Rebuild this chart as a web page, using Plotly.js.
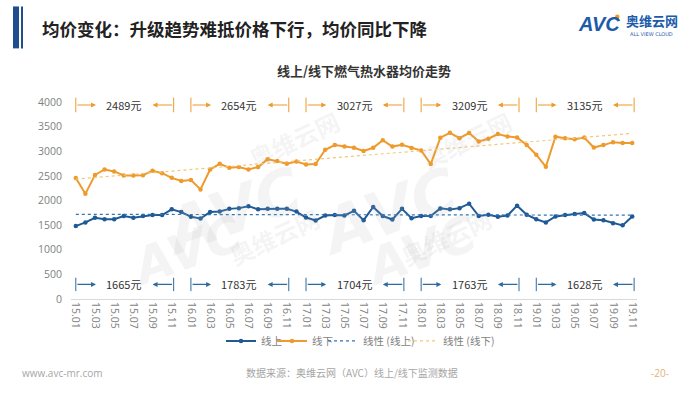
<!DOCTYPE html>
<html>
<head>
<meta charset="utf-8">
<script src="https://cdn.plot.ly/plotly-3.0.1.min.js"></script>
<style>
html,body{margin:0;padding:0;background:#fff;}
#chart{width:700px;height:394px;}
</style>
</head>
<body>
<div id="chart"></div>
<script>
// ---- data ----
const months = [
  "15.01","15.02","15.03","15.04","15.05","15.06","15.07","15.08","15.09","15.10","15.11","15.12",
  "16.01","16.02","16.03","16.04","16.05","16.06","16.07","16.08","16.09","16.10","16.11","16.12",
  "17.01","17.02","17.03","17.04","17.05","17.06","17.07","17.08","17.09","17.10","17.11","17.12",
  "18.01","18.02","18.03","18.04","18.05","18.06","18.07","18.08","18.09","18.10","18.11","18.12",
  "19.01","19.02","19.03","19.04","19.05","19.06","19.07","19.08","19.09","19.10","19.11"
];
const online = [
  1480,1555,1650,1620,1620,1685,1650,1685,1705,1705,1820,1765,
  1670,1635,1765,1775,1830,1845,1885,1820,1830,1830,1830,1775,
  1655,1595,1695,1705,1695,1790,1600,1870,1685,1615,1830,1640,
  1685,1685,1840,1820,1845,1935,1685,1710,1670,1695,1895,1710,
  1620,1555,1675,1705,1725,1745,1615,1600,1540,1495,1675
];
const offline = [
  2455,2135,2520,2630,2590,2510,2510,2515,2605,2555,2460,2395,
  2415,2225,2630,2745,2665,2680,2630,2680,2840,2800,2745,2790,
  2730,2740,3030,3125,3095,3070,3005,3070,3225,3095,3130,3065,
  3015,2740,3275,3375,3265,3370,3200,3255,3350,3300,3280,3125,
  2930,2685,3295,3265,3245,3280,3075,3125,3185,3170,3170
];
const yearStartIdx = [0, 12, 24, 36, 48];
const offlineAvgLabels = ["2489元","2654元","3027元","3209元","3135元"];
const onlineAvgLabels  = ["1665元","1783元","1704元","1763元","1628元"];
const tickMonths = months.filter((m, i) => i % 2 === 0);
const seriesNames = ["线上","线下","线性 (线上)","线性 (线下)"];

// ---- styles ----
const BLUE = "#1F5A96", ORANGE = "#EE9A2C";
const BLUE_T = "#2E75B6", ORANGE_T = "#F2C77A";
const CJK = "Noto Sans CJK SC, sans-serif";

function linfit(arr){
  const n = arr.length; let sx=0, sy=0, sxx=0, sxy=0;
  arr.forEach((v,i)=>{sx+=i; sy+=v; sxx+=i*i; sxy+=i*v;});
  const b = (n*sxy - sx*sy)/(n*sxx - sx*sx);
  const a = (sy - b*sx)/n;
  return arr.map((v,i)=>a+b*i);
}

const traces = [
  {x: months, y: online, name: seriesNames[0], type:"scatter", mode:"lines+markers", legend:"legend",
   line:{color:BLUE, width:2}, marker:{color:BLUE, size:4.5}},
  {x: months, y: offline, name: seriesNames[1], type:"scatter", mode:"lines+markers", legend:"legend2",
   line:{color:ORANGE, width:2}, marker:{color:ORANGE, size:4.5}},
  {x: months, y: linfit(online), name: seriesNames[2], type:"scatter", mode:"lines", legend:"legend3",
   line:{color:BLUE_T, width:1.2, dash:"dot"}},
  {x: months, y: linfit(offline), name: seriesNames[3], type:"scatter", mode:"lines", legend:"legend4",
   line:{color:ORANGE_T, width:1.2, dash:"dot"}}
];

function px(xp){return (xp-71)/566;}
function py(yp){return (299-yp)/197.3;}

const shapes = [];
const annotations = [];
function bracketRow(labels, color, yc, h){
  yearStartIdx.forEach((s, k) => {
    [s, s + 10.2].forEach(xx => shapes.push({type:"line", xref:"x", yref:"paper",
      x0:xx, x1:xx, y0:yc-h, y1:yc+h, line:{color:color, width:1}}));
    annotations.push({xref:"x", yref:"paper", x:s+2.1, y:yc, ax:-20, ay:0, text:"",
      showarrow:true, arrowhead:2, arrowsize:0.9, arrowwidth:1.1, arrowcolor:color});
    annotations.push({xref:"x", yref:"paper", x:s+8.0, y:yc, ax:21, ay:0, text:"",
      showarrow:true, arrowhead:2, arrowsize:0.9, arrowwidth:1.1, arrowcolor:color});
    annotations.push({xref:"x", yref:"paper", x:s+5, y:yc, text:labels[k], showarrow:false,
      font:{family:CJK, size:11, color:"#333"}, xanchor:"center", yanchor:"middle"});
  });
}
bracketRow(offlineAvgLabels, ORANGE, 0.985, 0.037);
bracketRow(onlineAvgLabels, "#2F6A9E", 0.074, 0.034);

// page decorations
shapes.push(
  {type:"rect", xref:"paper", yref:"paper", x0:px(13), x1:px(19), y0:py(6), y1:py(48),
   fillcolor:"#1F4E8C", line:{width:0}, layer:"above"},
  {type:"rect", xref:"paper", yref:"paper", x0:px(21), x1:px(23), y0:py(6), y1:py(48),
   fillcolor:"#1F4E8C", line:{width:0}, layer:"above"},
  {type:"circle", xref:"paper", yref:"paper", x0:px(615), x1:px(619.5), y0:py(14), y1:py(18.5),
   fillcolor:"#F39A1E", line:{width:0}, layer:"above"}
);

annotations.push(
  {xref:"paper", yref:"paper", x:px(40), y:py(28), xanchor:"left", yanchor:"middle", showarrow:false,
   text:"<b>均价变化：升级趋势难抵价格下行，均价同比下降</b>", font:{family:CJK, size:17.5, color:"#222"}},
  {xref:"paper", yref:"paper", x:px(364), y:py(70), xanchor:"center", yanchor:"middle", showarrow:false,
   text:"<b>线上/线下燃气热水器均价走势</b>", font:{family:CJK, size:13, color:"#333"}},
  // logo
  {xref:"paper", yref:"paper", x:px(576), y:py(24), xanchor:"left", yanchor:"middle", showarrow:false,
   text:"<b><i>AVC</i></b>", font:{family:"Liberation Sans, sans-serif", size:20, color:"#1C5BAA"}},
  {xref:"paper", yref:"paper", x:px(624), y:py(20), xanchor:"left", yanchor:"middle", showarrow:false,
   text:"<b>奥维云网</b>", font:{family:CJK, size:13, color:"#1C5BAA"}},
  {xref:"paper", yref:"paper", x:px(651), y:py(34), xanchor:"center", yanchor:"middle", showarrow:false,
   text:"ALL VIEW CLOUD", font:{family:"DejaVu Sans", size:5, color:"#1C5BAA"}},
  // footer
  {xref:"paper", yref:"paper", x:px(20), y:py(373), xanchor:"left", yanchor:"middle", showarrow:false,
   text:"www.avc-mr.com", font:{family:"Open Sans, sans-serif", size:10, color:"#a6a6a6"}},
  {xref:"paper", yref:"paper", x:px(352), y:py(373), xanchor:"center", yanchor:"middle", showarrow:false,
   text:"数据来源：奥维云网（AVC）线上/线下监测数据", font:{family:CJK, size:10, color:"#a6a6a6"}},
  {xref:"paper", yref:"paper", x:px(660), y:py(373), xanchor:"center", yanchor:"middle", showarrow:false,
   text:"-20-", font:{family:"Open Sans, sans-serif", size:10, color:"#E2B27A"}}
);
// faint watermarks
const wm = [[150,150,62],[470,150,62],[120,300,50],[420,300,50]];
wm.forEach(w=>annotations.push({xref:"paper", yref:"paper", x:px(w[0]), y:py(w[1]), showarrow:false,
  text:"<b><i>AVC</i></b>", textangle:-20, font:{family:"DejaVu Sans", size:w[2], color:"rgba(180,180,180,0.15)"}}));
const wm2 = [[240,100],[520,100],[220,275],[500,275]];
wm2.forEach(w=>annotations.push({xref:"paper", yref:"paper", x:px(w[0]), y:py(w[1]), showarrow:false,
  text:"<b>奥维云网</b>", textangle:-25, font:{family:CJK, size:24, color:"rgba(170,170,170,0.13)"}}));

function leg(xp){
  return {orientation:"h", x:px(xp), y:py(341), xanchor:"left", yanchor:"middle",
    font:{family:CJK, size:10.5, color:"#7f7f7f"}, itemwidth:30, bgcolor:"rgba(0,0,0,0)"};
}

const layout = {
  width:700, height:394,
  margin:{l:71, r:63, t:101.7, b:95},
  paper_bgcolor:"#fff", plot_bgcolor:"rgba(0,0,0,0)",
  showlegend:true,
  legend:leg(221), legend2:leg(272), legend3:leg(323), legend4:leg(403),
  xaxis:{type:"category", range:[-0.5, 58.5], tickvals:tickMonths, ticktext:tickMonths,
    tickangle:90, tickfont:{family:"Open Sans, sans-serif", size:10.5, color:"#7f7f7f"},
    showgrid:false, zeroline:false, showline:true, linecolor:"#d9d9d9", linewidth:1, ticks:""},
  yaxis:{range:[0,4000], dtick:500, showgrid:false, zeroline:false, showline:false,
    tickfont:{family:"Open Sans, sans-serif", size:10.5, color:"#7f7f7f"}, ticks:"", ticklabelstandoff:8},
  shapes:shapes, annotations:annotations
};
Plotly.newPlot("chart", traces, layout, {displayModeBar:false, staticPlot:true});
</script>
</body>
</html>
